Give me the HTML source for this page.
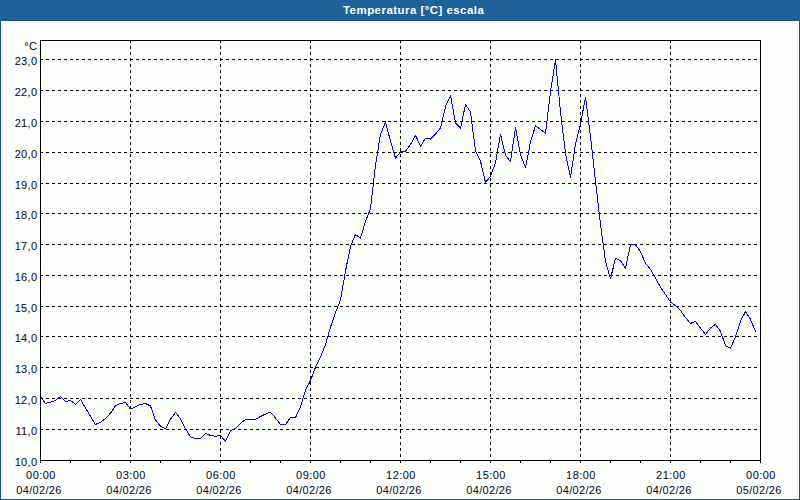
<!DOCTYPE html>
<html><head><meta charset="utf-8"><title>Temperatura</title>
<style>
html,body{margin:0;padding:0;}
body{width:800px;height:500px;overflow:hidden;background:#fdfefc;font-family:"Liberation Sans",sans-serif;position:relative;}
#frame{position:absolute;left:0;top:20px;width:798px;height:478px;border:1px solid #0f5691;background:#fcfefc;}
#title{position:absolute;left:0;top:0;width:800px;height:20px;background:#1d6197;color:#fff;font-weight:bold;font-size:11.5px;line-height:20px;text-align:center;}
#title span{position:absolute;z-index:2;left:343px;top:0;white-space:nowrap;letter-spacing:0.45px}
svg{position:absolute;left:0;top:0;}
.yl{position:absolute;left:0;width:37.3px;letter-spacing:0.3px;text-align:right;font-size:11px;line-height:13px;height:13px;color:#05051c;white-space:nowrap;}
.xl{position:absolute;width:60px;text-align:center;font-size:11px;line-height:13px;height:13px;color:#05051c;white-space:nowrap;}
.xt{letter-spacing:0.45px}
.xd{letter-spacing:0.32px}
</style></head><body>
<div id="frame"></div>
<div id="title"><svg width="800" height="20" viewBox="0 0 800 20" shape-rendering="crispEdges"><defs><pattern id="dth" width="8" height="20" patternUnits="userSpaceOnUse"><g fill="#2365ae"><rect x="6" y="0" width="1" height="1"/><rect x="0" y="1" width="1" height="1"/><rect x="3" y="2" width="1" height="1"/><rect x="7" y="3" width="1" height="1"/><rect x="2" y="4" width="1" height="1"/><rect x="5" y="4" width="1" height="1"/><rect x="6" y="6" width="1" height="1"/><rect x="0" y="7" width="1" height="1"/><rect x="3" y="7" width="1" height="1"/><rect x="6" y="9" width="1" height="1"/><rect x="2" y="10" width="1" height="1"/><rect x="0" y="11" width="1" height="1"/><rect x="4" y="11" width="1" height="1"/><rect x="3" y="13" width="1" height="1"/><rect x="7" y="13" width="1" height="1"/><rect x="1" y="15" width="1" height="1"/><rect x="5" y="15" width="1" height="1"/><rect x="0" y="17" width="1" height="1"/><rect x="4" y="17" width="1" height="1"/><rect x="2" y="19" width="1" height="1"/><rect x="6" y="19" width="1" height="1"/></g></pattern></defs><rect x="0" y="0" width="800" height="20" fill="url(#dth)"/></svg><span>Temperatura [°C] escala</span></div>
<svg width="800" height="500" viewBox="0 0 800 500">
<g shape-rendering="crispEdges" stroke="#000" stroke-width="1" stroke-dasharray="3,3" fill="none">
<line x1="40" y1="429.5" x2="760" y2="429.5"/><line x1="40" y1="398.5" x2="760" y2="398.5"/><line x1="40" y1="367.5" x2="760" y2="367.5"/><line x1="40" y1="336.5" x2="760" y2="336.5"/><line x1="40" y1="306.5" x2="760" y2="306.5"/><line x1="40" y1="275.5" x2="760" y2="275.5"/><line x1="40" y1="244.5" x2="760" y2="244.5"/><line x1="40" y1="213.5" x2="760" y2="213.5"/><line x1="40" y1="183.5" x2="760" y2="183.5"/><line x1="40" y1="152.5" x2="760" y2="152.5"/><line x1="40" y1="121.5" x2="760" y2="121.5"/><line x1="40" y1="90.5" x2="760" y2="90.5"/><line x1="40" y1="59.5" x2="760" y2="59.5"/>
<line x1="130.5" y1="40" x2="130.5" y2="460"/><line x1="220.5" y1="40" x2="220.5" y2="460"/><line x1="310.5" y1="40" x2="310.5" y2="460"/><line x1="400.5" y1="40" x2="400.5" y2="460"/><line x1="490.5" y1="40" x2="490.5" y2="460"/><line x1="580.5" y1="40" x2="580.5" y2="460"/><line x1="670.5" y1="40" x2="670.5" y2="460"/>
</g>
<g shape-rendering="crispEdges" fill="#000" stroke="none">
<rect x="40" y="40" width="721" height="1"/>
<rect x="40" y="460" width="721" height="1"/>
<rect x="40" y="40" width="1" height="421"/>
<rect x="760" y="40" width="1" height="421"/>
<rect x="40" y="460" width="1" height="3"/><rect x="70" y="460" width="1" height="3"/><rect x="100" y="460" width="1" height="3"/><rect x="130" y="460" width="1" height="3"/><rect x="160" y="460" width="1" height="3"/><rect x="190" y="460" width="1" height="3"/><rect x="220" y="460" width="1" height="3"/><rect x="250" y="460" width="1" height="3"/><rect x="280" y="460" width="1" height="3"/><rect x="310" y="460" width="1" height="3"/><rect x="340" y="460" width="1" height="3"/><rect x="370" y="460" width="1" height="3"/><rect x="400" y="460" width="1" height="3"/><rect x="430" y="460" width="1" height="3"/><rect x="460" y="460" width="1" height="3"/><rect x="490" y="460" width="1" height="3"/><rect x="520" y="460" width="1" height="3"/><rect x="550" y="460" width="1" height="3"/><rect x="580" y="460" width="1" height="3"/><rect x="610" y="460" width="1" height="3"/><rect x="640" y="460" width="1" height="3"/><rect x="670" y="460" width="1" height="3"/><rect x="700" y="460" width="1" height="3"/><rect x="730" y="460" width="1" height="3"/><rect x="760" y="460" width="1" height="3"/>
</g>
<polyline shape-rendering="crispEdges" fill="none" stroke="#0000ff" stroke-width="1" stroke-linejoin="round" points="40.5,396.6 45.5,403.4 50.5,402.4 55.5,400.2 60.5,396.5 65.5,401.5 70.5,400.4 75.5,404.4 80.5,399.5 85.5,408.0 90.5,416.4 95.5,424.5 100.5,422.3 105.5,418.4 110.5,413.2 115.5,405.7 120.5,403.4 125.5,402.5 130.5,409.0 135.5,406.9 140.5,404.4 145.5,403.5 150.5,406.0 155.5,420.0 160.5,426.3 165.5,428.8 170.5,419.4 175.5,412.3 180.5,418.8 185.5,428.8 190.5,436.9 195.5,438.5 200.5,438.5 205.5,433.5 210.5,435.4 215.5,436.3 220.5,435.4 225.5,441.3 230.5,430.6 235.5,428.4 240.5,423.5 245.5,419.4 250.5,419.4 255.5,419.4 260.5,416.5 265.5,414.1 270.5,412.1 275.5,418.1 280.5,424.5 285.5,424.5 290.5,417.5 295.5,417.5 300.5,406.9 305.5,390.0 310.5,380.6 315.5,367.3 320.5,356.9 325.5,344.4 330.5,327.0 335.5,312.5 340.5,300.0 345.5,271.0 350.5,246.3 355.5,234.4 360.5,238.1 365.5,221.3 370.5,208.8 375.5,165.0 380.5,134.4 385.5,121.9 390.5,141.3 395.5,158.1 400.5,151.9 405.5,151.3 410.5,144.4 415.5,135.3 420.5,146.3 425.5,138.1 430.5,139.2 435.5,134.0 440.5,128.1 445.5,106.5 450.5,95.6 455.5,123.1 460.5,128.1 465.5,104.4 470.5,111.9 475.5,151.0 480.5,161.3 485.5,182.5 490.5,176.3 495.5,162.5 500.5,134.4 505.5,155.0 510.5,161.9 515.5,127.3 520.5,155.0 525.5,167.5 530.5,142.0 535.5,125.6 540.5,129.6 545.5,133.3 550.5,91.5 555.5,59.8 560.5,112.0 565.5,153.5 570.5,177.5 575.5,143.8 580.5,123.8 585.5,97.4 590.5,136.3 595.5,181.3 600.5,224.5 605.5,261.2 610.5,278.8 615.5,258.3 620.5,260.6 625.5,268.1 630.5,244.6 635.5,245.0 640.5,251.6 645.5,263.1 650.5,269.4 655.5,278.1 660.5,287.2 665.5,294.5 670.5,302.0 675.5,305.6 680.5,310.6 685.5,317.5 690.5,323.5 695.5,321.3 700.5,328.1 705.5,334.4 710.5,328.1 715.5,324.4 720.5,331.3 725.5,345.6 730.5,348.1 735.5,336.9 740.5,321.3 745.5,311.5 750.5,319.4 755.5,331.6"/>
</svg>
<div class="yl" style="top:40px">°C</div>
<div class="yl" style="top:456px">10,0</div><div class="yl" style="top:425px">11,0</div><div class="yl" style="top:394px">12,0</div><div class="yl" style="top:363px">13,0</div><div class="yl" style="top:332px">14,0</div><div class="yl" style="top:302px">15,0</div><div class="yl" style="top:271px">16,0</div><div class="yl" style="top:240px">17,0</div><div class="yl" style="top:209px">18,0</div><div class="yl" style="top:179px">19,0</div><div class="yl" style="top:148px">20,0</div><div class="yl" style="top:117px">21,0</div><div class="yl" style="top:86px">22,0</div><div class="yl" style="top:55px">23,0</div>
<div class="xl xt" style="left:11px;top:469px">00:00</div><div class="xl xd" style="left:9px;top:484px">04/02/26</div><div class="xl xt" style="left:101px;top:469px">03:00</div><div class="xl xd" style="left:99px;top:484px">04/02/26</div><div class="xl xt" style="left:191px;top:469px">06:00</div><div class="xl xd" style="left:189px;top:484px">04/02/26</div><div class="xl xt" style="left:281px;top:469px">09:00</div><div class="xl xd" style="left:279px;top:484px">04/02/26</div><div class="xl xt" style="left:371px;top:469px">12:00</div><div class="xl xd" style="left:369px;top:484px">04/02/26</div><div class="xl xt" style="left:461px;top:469px">15:00</div><div class="xl xd" style="left:459px;top:484px">04/02/26</div><div class="xl xt" style="left:551px;top:469px">18:00</div><div class="xl xd" style="left:549px;top:484px">04/02/26</div><div class="xl xt" style="left:641px;top:469px">21:00</div><div class="xl xd" style="left:639px;top:484px">04/02/26</div><div class="xl xt" style="left:731px;top:469px">00:00</div><div class="xl xd" style="left:729px;top:484px">05/02/26</div>
</body></html>
